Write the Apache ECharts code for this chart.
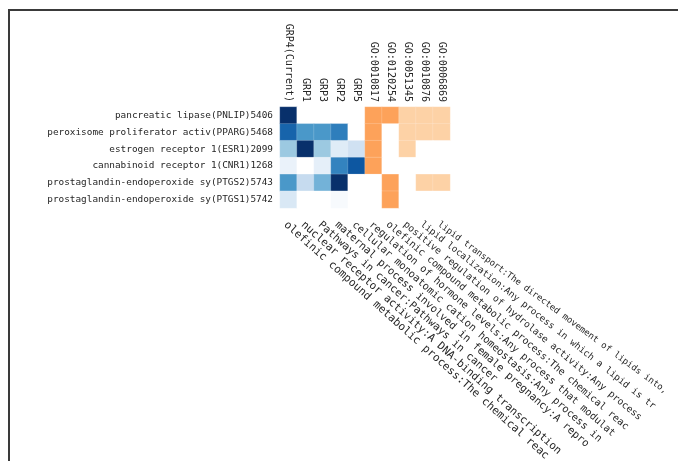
<!DOCTYPE html>
<html>
<head>
<meta charset="utf-8">
<script src="https://cdn.jsdelivr.net/npm/echarts@6/dist/echarts.min.js"></script>
<style>
  html, body { margin: 0; padding: 0; background: #ffffff; }
  #chart { width: 678px; height: 461px; }
</style>
</head>
<body>
<div id="chart"></div>
<script>
// Genes (rows, top to bottom)
const genes = [
  'pancreatic lipase(PNLIP)5406',
  'peroxisome proliferator activ(PPARG)5468',
  'estrogen receptor 1(ESR1)2099',
  'cannabinoid receptor 1(CNR1)1268',
  'prostaglandin-endoperoxide sy(PTGS2)5743',
  'prostaglandin-endoperoxide sy(PTGS1)5742'
];

// Column identifiers shown along the top
const topLabels = [
  'GRP4(Current)', 'GRP1', 'GRP3', 'GRP2', 'GRP5',
  'GO:0010817', 'GO:0120254', 'GO:0051345', 'GO:0010876', 'GO:0006869'
];

// Column descriptions shown along the bottom
const bottomLabels = [
  'olefinic compound metabolic process:The chemical reac',
  'nuclear receptor activity:A DNA-binding transcription',
  'Pathways in cancer:Pathways in cancer',
  'maternal process involved in female pregnancy:A repro',
  'cellular monoatomic cation homeostasis:Any process in',
  'regulation of hormone levels:Any process that modulat',
  'olefinic compound metabolic process:The chemical reac',
  'positive regulation of hydrolase activity:Any process',
  'lipid localization:Any process in which a lipid is tr',
  'lipid transport:The directed movement of lipids into,'
];

// Group scores (first five columns), one row per gene
const groupScores = [
  [1.00, 0.00, 0.00, 0.00, 0.00],
  [0.80, 0.60, 0.60, 0.70, 0.00],
  [0.38, 1.00, 0.38, 0.12, 0.20],
  [0.08, 0.00, 0.10, 0.68, 0.85],
  [0.60, 0.25, 0.48, 1.00, 0.00],
  [0.15, 0.00, 0.00, 0.03, 0.00]
];

// GO term enrichment (last five columns), one row per gene
const goScores = [
  [0.42, 0.42, 0.24, 0.24, 0.24],
  [0.42, 0.00, 0.24, 0.24, 0.24],
  [0.42, 0.00, 0.24, 0.00, 0.00],
  [0.42, 0.00, 0.00, 0.00, 0.00],
  [0.00, 0.42, 0.00, 0.24, 0.24],
  [0.00, 0.42, 0.00, 0.00, 0.00]
];

const blues = ['#ffffff', '#deebf7', '#c6dbef', '#9ecae1', '#6baed6', '#4292c6', '#2171b5', '#08519c', '#08306b'];
const oranges = ['#ffffff', '#fee6ce', '#fdd0a2', '#fdae6b', '#fd8d3c', '#f16913', '#d94801', '#a63603', '#7f2704'];

// Tilt (degrees below horizontal) and size of each bottom description
const labelTilt = [41.8, 41.7, 41.6, 41.5, 41.3, 41.0, 40.5, 39.6, 38.3, 36.5];
const labelSize = [11, 10.8, 10.6, 10.5, 10.3, 10.1, 9.9, 9.6, 9.3, 8.9];

const groupData = [];
groupScores.forEach((row, r) => row.forEach((v, c) => groupData.push([c, r, v])));
const goData = [];
goScores.forEach((row, r) => row.forEach((v, c) => goData.push([c + groupScores[0].length, r, v])));
const descData = bottomLabels.map((_, i) => [i, genes.length - 0.5]);

const FONT = 'DejaVu Sans Mono';

const chart = echarts.init(document.getElementById('chart'), null, { renderer: 'canvas' });
chart.setOption({
  backgroundColor: '#ffffff',
  animation: false,
  grid: { left: 280, top: 107, width: 170, height: 101 },
  xAxis: {
    type: 'category', data: topLabels, position: 'top',
    axisLine: { show: false }, axisTick: { show: false }, splitLine: { show: false },
    axisLabel: { rotate: 90, margin: 5, fontFamily: FONT, fontSize: 10, color: '#262626', interval: 0 }
  },
  yAxis: {
    type: 'category', data: genes, inverse: true,
    axisLine: { show: false }, axisTick: { show: false }, splitLine: { show: false },
    axisLabel: { margin: 7, fontFamily: FONT, fontSize: 9.4, color: '#262626', interval: 0 }
  },
  visualMap: [
    { show: false, seriesIndex: 0, min: 0, max: 1, inRange: { color: blues } },
    { show: false, seriesIndex: 1, min: 0, max: 1, inRange: { color: oranges } }
  ],
  series: [
    {
      type: 'heatmap', data: groupData,
      itemStyle: { borderColor: 'rgba(255,255,255,0.35)', borderWidth: 0.5 }
    },
    {
      type: 'heatmap', data: goData,
      itemStyle: { borderColor: 'rgba(255,255,255,0.35)', borderWidth: 0.5 }
    },
    {
      // Column descriptions hanging below the grid, each anchored at its column
      type: 'custom', data: descData, clip: false, silent: true,
      renderItem: function (params, api) {
        const i = api.value(0);
        const p = api.coord([i, api.value(1)]);
        const ang = labelTilt[i] * Math.PI / 180;
        return {
          type: 'text',
          x: p[0] - 3, y: p[1] + 7,
          rotation: -ang,
          style: {
            text: bottomLabels[i],
            font: labelSize[i] + 'px "' + FONT + '"',
            fill: '#262626',
            align: 'left',
            verticalAlign: 'middle'
          }
        };
      }
    }
  ],
  graphic: [
    {
      type: 'polyline', silent: true,
      shape: { points: [[9, 461], [9, 10], [678, 10]] },
      style: { stroke: '#3a3a3a', lineWidth: 2, fill: null }
    }
  ]
});
</script>
</body>
</html>
